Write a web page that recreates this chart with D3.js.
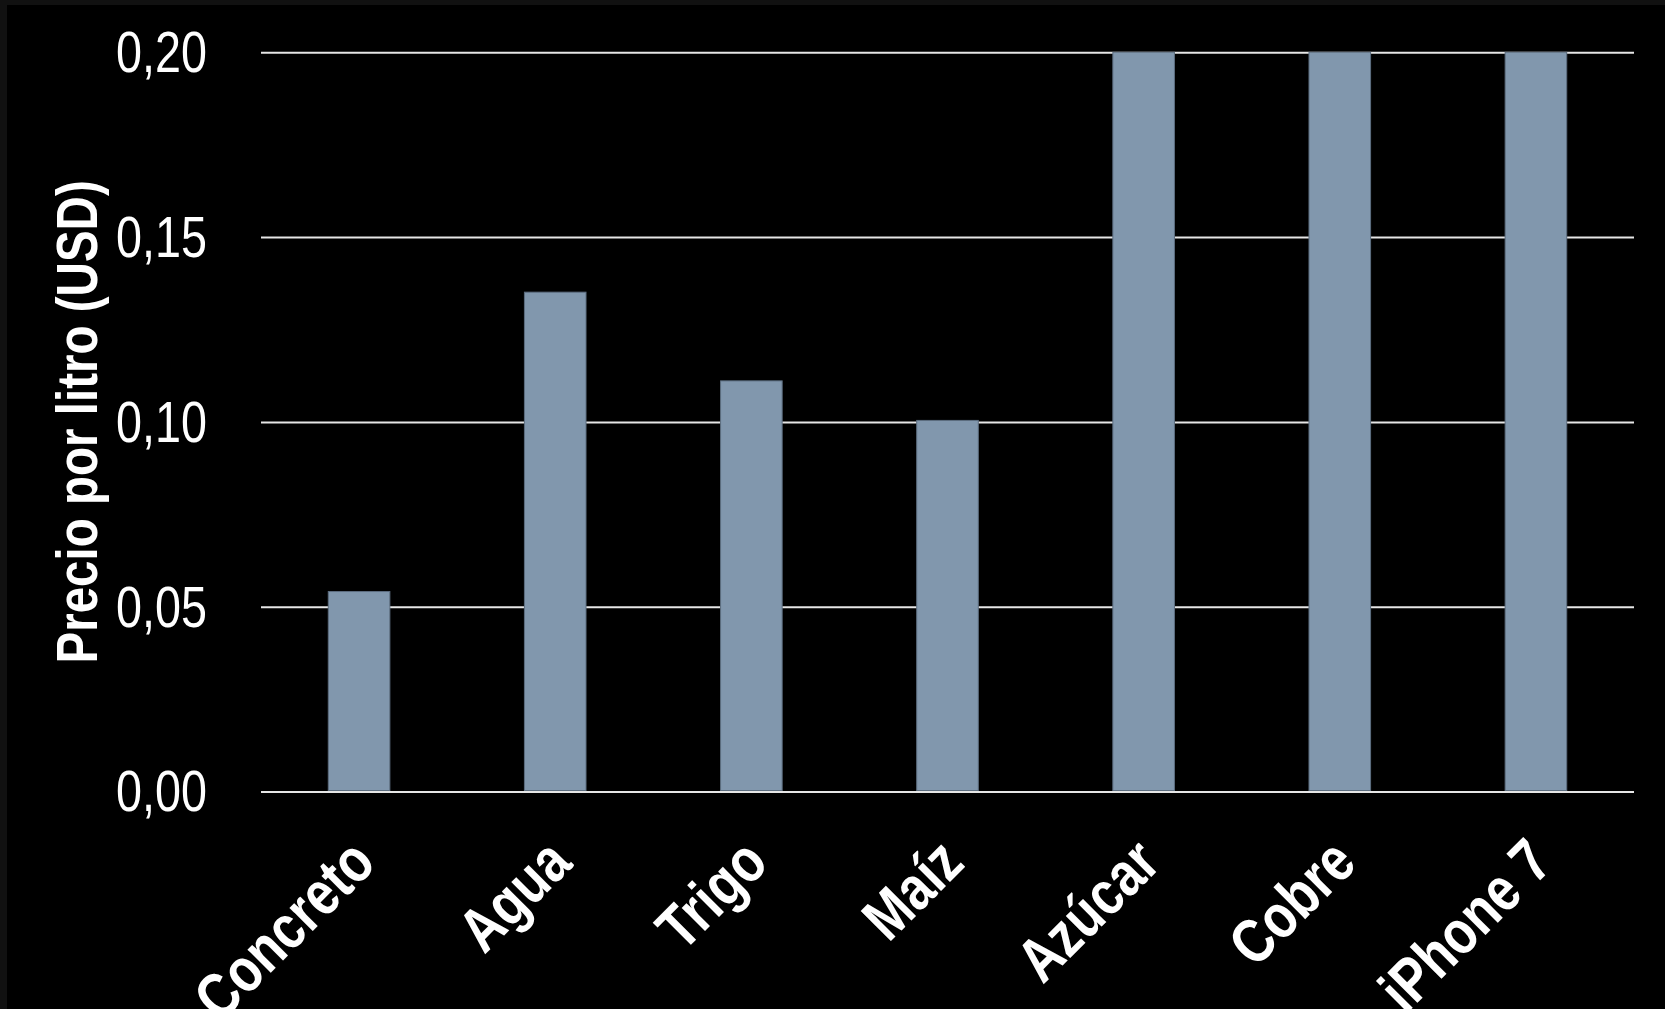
<!DOCTYPE html>
<html lang="es">
<head>
<meta charset="utf-8">
<script src="https://cdn.jsdelivr.net/npm/d3@7"></script>
<style>
  html, body { margin: 0; padding: 0; background: #000; }
  svg { display: block; }
  text { font-family: "Liberation Sans", Arial, sans-serif; }
</style>
</head>
<body>
<svg id="chart" width="1665" height="1009"></svg>
<script>
// Precio por litro de distintos bienes (USD)
const categories = ["Concreto", "Agua", "Trigo", "Maíz", "Azúcar", "Cobre", "iPhone 7"];
const prices = [0.0541, 0.1351, 0.1111, 0.1004, 0.20, 0.20, 0.20];
const yTicks = [0.00, 0.05, 0.10, 0.15, 0.20];
const yTitle = "Precio por litro (USD)";

const W = 1665, H = 1009;
const plot = { left: 261, right: 1634, top: 52.3, bottom: 791.5 };
const NARROW = 0.82; // horizontal squeeze that gives the condensed lettering

const svg = d3.select("#chart");

// page background with a thin dark frame along the top and left edges
svg.append("rect").attr("width", W).attr("height", H).attr("fill", "#111111");
svg.append("rect").attr("x", 7).attr("y", 5).attr("width", W - 7).attr("height", H - 5).attr("fill", "#000000");

const es = d3.formatLocale({ decimal: ",", thousands: ".", grouping: [3], currency: ["", " $"] });
const fmt = es.format(".2f");

const x = d3.scaleBand()
  .domain(categories)
  .range([plot.left, plot.right])
  .paddingInner(0.686)
  .paddingOuter(0.343);

const y = d3.scaleLinear()
  .domain([0, 0.20])
  .range([plot.bottom, plot.top]);

// horizontal gridlines + tick labels
const yAxis = d3.axisLeft(y)
  .tickValues(yTicks)
  .tickFormat(fmt)
  .tickSizeInner(-(plot.right - plot.left))
  .tickSizeOuter(0)
  .tickPadding(54);

const gy = svg.append("g")
  .attr("transform", `translate(${plot.left},0)`)
  .call(yAxis);
gy.select(".domain").remove();
gy.selectAll(".tick line")
  .attr("stroke", "#e6e6e6")
  .attr("stroke-width", 2);
gy.selectAll(".tick text")
  .attr("fill", "#ffffff")
  .attr("font-size", 57)
  .attr("x", 0)
  .attr("dy", "0.34em")
  .attr("text-anchor", "end")
  .attr("transform", `translate(-54,0) scale(${NARROW},1)`);

// bars
svg.append("g")
  .selectAll("rect")
  .data(categories.map((c, i) => ({ c, v: prices[i] })))
  .join("rect")
  .attr("x", d => x(d.c))
  .attr("y", d => y(d.v))
  .attr("width", x.bandwidth())
  .attr("height", d => y(0) - y(d.v) - 1)
  .attr("fill", "#8197ad")
  .attr("stroke", "#5d6e80")
  .attr("stroke-width", 1);

// category labels, rotated
const xAxis = d3.axisBottom(x).tickSize(0).tickPadding(0);
const gx = svg.append("g")
  .attr("transform", `translate(0,${plot.bottom})`)
  .call(xAxis);
gx.select(".domain").remove();
gx.selectAll(".tick text")
  .attr("fill", "#ffffff")
  .attr("font-size", 62)
  .attr("font-weight", "bold")
  .attr("text-anchor", "end")
  .attr("dy", null)
  .attr("y", 0)
  .attr("transform", `translate(19,74) rotate(-45) scale(${NARROW},1)`);

// y-axis title
svg.append("text")
  .attr("transform", `translate(97,${(plot.top + plot.bottom) / 2}) rotate(-90) scale(${NARROW},1)`)
  .attr("text-anchor", "middle")
  .attr("fill", "#ffffff")
  .attr("font-size", 58)
  .attr("font-weight", "bold")
  .text(yTitle);
</script>
</body>
</html>
